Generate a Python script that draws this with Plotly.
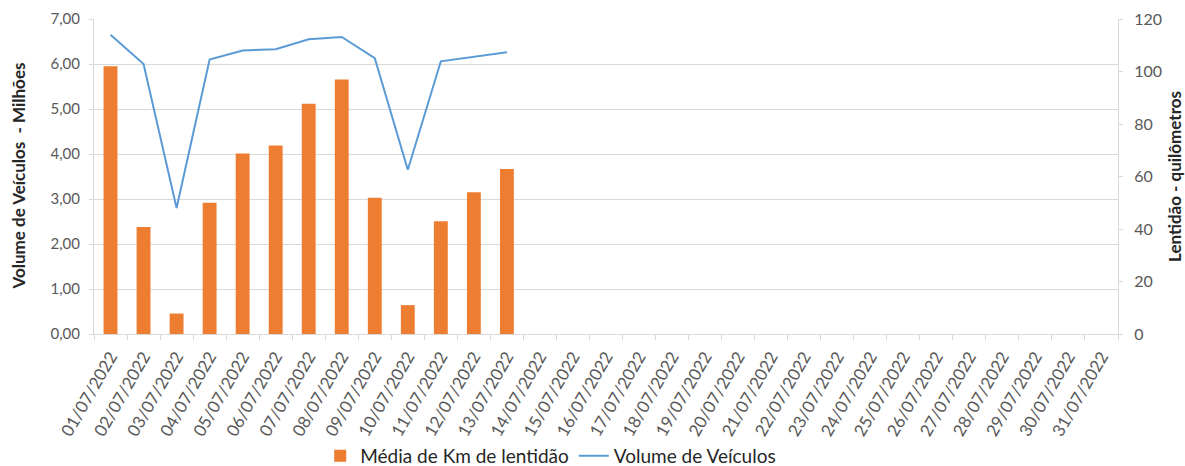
import plotly.graph_objects as go

dates = [f"{d:02d}/07/2022" for d in range(1, 32)]
lentidao_km = [102.0, 40.8, 7.8, 50.0, 68.8, 71.8, 87.7, 97.0, 51.9, 11.0, 43.0, 54.0, 62.9]
volume_milhoes = [6.65, 6.00, 2.80, 6.10, 6.30, 6.33, 6.55, 6.60, 6.13, 3.65, 6.06, 6.16, 6.26]

FONT = "Lato"
TXT = "#595959"
GRID = "#D9D9D9"

fig = go.Figure()
fig.add_trace(go.Bar(
    x=dates[:len(lentidao_km)], y=lentidao_km, name="Média de Km de lentidão",
    marker=dict(color="#ED7D31", line=dict(width=0)), yaxis="y2",
))
fig.add_trace(go.Scatter(
    x=dates[:len(volume_milhoes)], y=volume_milhoes, name="Volume de Veículos",
    mode="lines", line=dict(color="#5B9BD5", width=2), yaxis="y",
))

fig.update_layout(
    width=1185, height=466,
    margin=dict(l=94, r=67, t=19, b=132, autoexpand=False),
    plot_bgcolor="white", paper_bgcolor="white",
    separators=",.",
    bargap=0.58,
    font=dict(family=FONT, color=TXT, size=15),
    showlegend=True,
    legend=dict(orientation="h", x=0.446, xanchor="center", y=-0.387, yanchor="middle",
                font=dict(size=19, color="#262626"), traceorder="normal"),
    xaxis=dict(
        type="category", categoryorder="array", categoryarray=dates,
        range=[-0.5, 30.5], automargin=False,
        tickangle=-60, tickson="boundaries", ticks="outside", ticklen=5, tickcolor=GRID,
        showline=True, linecolor=GRID, linewidth=1, showgrid=False,
        ticklabelstandoff=5,
        tickfont=dict(size=17, color=TXT),
    ),
    yaxis=dict(
        range=[0, 7], dtick=1, tickformat=".2f", automargin=False,
        showgrid=True, gridcolor=GRID, gridwidth=1,
        showline=True, linecolor=GRID, ticks="outside", ticklen=4, tickcolor=GRID,
        zeroline=False, ticklabelstandoff=6,
        tickfont=dict(size=15, color=TXT),
    ),
    yaxis2=dict(
        range=[0, 120], dtick=20, overlaying="y", side="right", automargin=False,
        showgrid=False, showline=True, linecolor=GRID, ticks="outside", ticklen=4, tickcolor=GRID,
        zeroline=False, ticklabelstandoff=8,
        title=dict(text="<b>Lentidão - quilômetros</b>", font=dict(size=17, color="#262626"), standoff=10),
        tickfont=dict(size=16, color=TXT),
    ),
    annotations=[dict(
        text="<b>Volume de Veículos  - Milhões</b>", textangle=-90,
        xref="paper", yref="paper", x=0, y=0.5, xanchor="center", yanchor="middle",
        xshift=-76, showarrow=False, font=dict(size=17, color="#262626", family=FONT),
    )],
)

fig.write_html("out.html", config={"displayModeBar": False},
               post_script="document.body.style.margin='0px';")
